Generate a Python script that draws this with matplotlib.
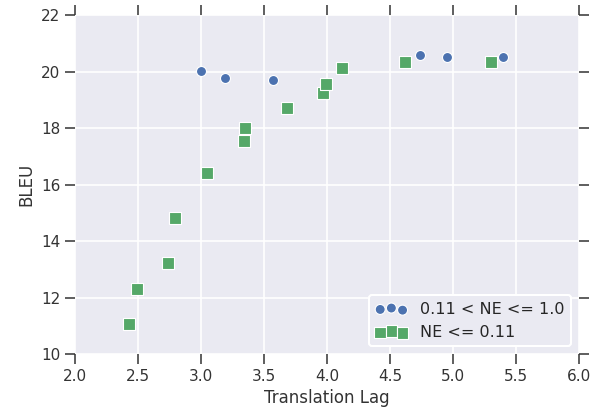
import numpy as np
import matplotlib
matplotlib.use("Agg")
import matplotlib.pyplot as plt
import seaborn as sns

# high NE group (blue circles)
lag_high = [3.00, 3.19, 3.57, 4.74, 4.95, 5.40]
bleu_high = [20.03, 19.76, 19.71, 20.57, 20.51, 20.51]

# low NE group (green squares)
lag_low = [2.43, 2.49, 2.74, 2.79, 3.05, 3.34, 3.35, 3.685, 3.97, 3.99, 4.12, 4.62, 5.30]
bleu_low = [11.07, 12.31, 13.22, 14.83, 16.40, 17.53, 18.01, 18.72, 19.23, 19.57, 20.11, 20.34, 20.34]

labels = ['0.11 < NE <= 1.0', 'NE <= 0.11']

sns.set_style("darkgrid")
plt.rcParams['font.family'] = ['DejaVu Sans']

fig = plt.figure(figsize=(5.96, 4.11), dpi=100)
ax = fig.add_axes([75/596, 1 - 354/411, 504/596, 339/411])

ax.scatter(lag_high, bleu_high, marker='o', s=52, color='#4C72B0',
           edgecolor='white', linewidth=0.8, label=labels[0], zorder=3)
ax.scatter(lag_low, bleu_low, marker='s', s=68, color='#55A868',
           edgecolor='white', linewidth=0.8, label=labels[1], zorder=3)

ax.set_xlim(2.0, 6.0)
ax.set_ylim(10, 22)
ax.set_xticks(np.arange(2.0, 6.01, 0.5))
ax.set_yticks(np.arange(10, 22.1, 2))
ax.grid(color='white', linewidth=1.2)
ax.tick_params(axis='both', which='both', direction='out', length=7, width=1.1,
               color='#333333', labelcolor='#333333', labelsize=11,
               top=True, right=True, bottom=True, left=True)
for s in ax.spines.values():
    s.set_visible(False)

ax.set_xlabel('Translation Lag', fontsize=12, color='#333333')
ax.set_ylabel('BLEU', fontsize=12, color='#333333')

leg = ax.legend(loc='lower right', scatterpoints=3, frameon=True, fontsize=11.5,
                facecolor='#EAEAF2', edgecolor='white', framealpha=1)
leg.get_frame().set_linewidth(1.5)

plt.savefig('out.png', dpi=100)
